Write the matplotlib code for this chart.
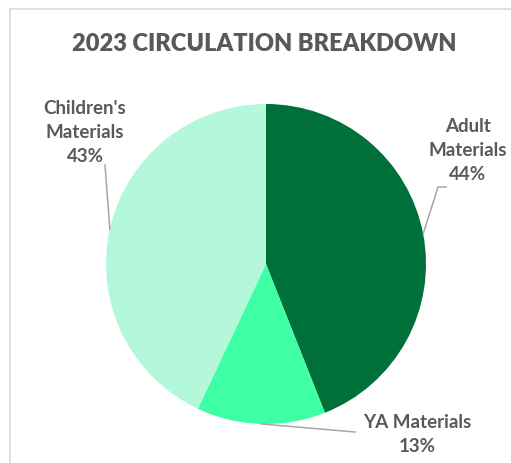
import numpy as np
import matplotlib.pyplot as plt
from matplotlib.patches import Rectangle

# ---- data ----
categories = ["Adult\nMaterials", "YA Materials", "Children's\nMaterials"]
shares = [44, 13, 43]
colors = ["#00703A", "#3EFFA3", "#B4F8DC"]
title = "2023 CIRCULATION BREAKDOWN"

W, H = 511, 463
TXT = "#595959"
plt.rcParams['font.family'] = ['Lato', 'DejaVu Sans']


def fx(px):
    return px / W


def fy(py):
    # pixel measured from top -> figure fraction
    return 1 - py / H


fig = plt.figure(figsize=(W / 100, H / 100), dpi=100)
fig.patch.set_facecolor("white")

# light frame (chart area border, cut off on right/bottom)
fig.patches.append(Rectangle((fx(10), fy(470)), 1.2, fy(9) - fy(470),
                             transform=fig.transFigure, fill=False,
                             edgecolor="#d9d9d9", lw=1.2))

# pie axes: center (266, 264), radius 160 px
cx, cy, r = 266, 264, 160
ax = fig.add_axes([fx(cx - r), fy(cy + r), 2 * r / W, 2 * r / H])
wedges, _ = ax.pie(shares, colors=colors, startangle=90, counterclock=False,
                   radius=1, wedgeprops=dict(linewidth=0))
ax.set_xlim(-1, 1)
ax.set_ylim(-1, 1)
ax.set_aspect("auto")
ax.axis("off")

fig.text(fx(264), fy(44), title, ha="center", va="center", fontsize=17,
         fontweight="heavy", color=TXT)

# labels with leader lines; start of each leader = wedge mid-angle on the edge
label_pos = [(468, 150), (417, 435), (85, 132)]
leader_pts = [[(438, 187), (446, 187)], [(355, 432)], [(105, 165)]]
for w, lab, pct, (tx, ty), pts in zip(wedges, categories, shares, label_pos, leader_pts):
    mid = np.deg2rad((w.theta1 + w.theta2) / 2)
    ex, ey = cx + r * np.cos(mid), cy - r * np.sin(mid)
    xs = [fx(ex)] + [fx(p[0]) for p in pts]
    ys = [fy(ey)] + [fy(p[1]) for p in pts]
    fig.add_artist(plt.Line2D(xs, ys, transform=fig.transFigure,
                              color="#a6a6a6", lw=1.1))
    fig.text(fx(tx), fy(ty), f"{lab}\n{pct}%", ha="center", va="center",
             fontsize=13.5, fontweight="bold", color=TXT, linespacing=1.5)

fig.savefig("out.png", dpi=100)
